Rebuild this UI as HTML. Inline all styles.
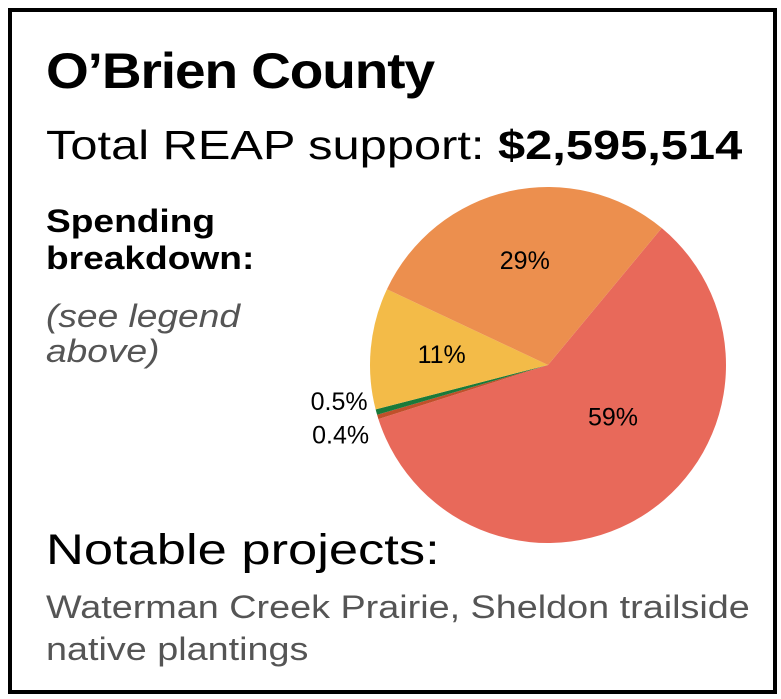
<!DOCTYPE html>
<html><head><meta charset="utf-8"><style>
body{margin:0;width:781px;height:699px;background:#fff;font-family:"Liberation Sans",sans-serif;position:relative;overflow:hidden}
.frame{position:absolute;left:8px;top:8px;width:761px;height:678px;border:4px solid #000}
.t{position:absolute;white-space:nowrap;color:#000;transform-origin:0 0}
</style></head><body>
<div class="frame"></div>
<div class="t" style="left:46px;top:42px;font-size:50px;font-weight:bold;letter-spacing:-1px;transform:scaleX(1.1)">O’Brien County</div>
<div class="t" style="left:46px;top:122px;font-size:41px;transform:scaleX(1.19)">Total REAP support: <b>$2,595,514</b></div>
<div class="t" style="left:46px;top:203px;font-size:32px;font-weight:bold;line-height:37px;transform:scaleX(1.16)">Spending<br>breakdown:</div>
<div class="t" style="left:46px;top:299px;font-size:32px;font-style:italic;color:#555;line-height:35px;transform:scaleX(1.16)">(see legend<br>above)</div>
<svg id="pie" width="781" height="699" style="position:absolute;left:0;top:0"></svg>
<div class="t" style="left:46px;top:526px;font-size:43px;transform:scaleX(1.22)">Notable projects:</div>
<div class="t" style="left:46px;top:586px;font-size:32px;color:#555;line-height:42px;transform:scaleX(1.18)">Waterman Creek Prairie, Sheldon trailside<br>native plantings</div>
<script>
const categories=["Category A","Category B","Category C","Category D","Category E"];
const values=[59,0.4,0.5,11,29];
const labels=["59%","0.4%","0.5%","11%","29%"];
const colors=["#e8695a","#c0502a","#1a7a3a","#f3bb48","#ec8f4e"];
const svg=document.getElementById('pie');
const cx=548,cy=365,r=178,start=39.7;
const total=values.reduce((a,b)=>a+b,0);
function pt(deg,rr){const a=deg*Math.PI/180;return [cx+rr*Math.sin(a),cy-rr*Math.cos(a)];}
let ang=start;
values.forEach((v,i)=>{
  const sweep=v/total*360;
  const [x1,y1]=pt(ang,r),[x2,y2]=pt(ang+sweep,r);
  const p=document.createElementNS("http://www.w3.org/2000/svg","path");
  p.setAttribute('d',`M${cx},${cy}L${x1},${y1}A${r},${r} 0 ${sweep>180?1:0} 1 ${x2},${y2}Z`);
  p.setAttribute('fill',colors[i]);
  
  
  svg.appendChild(p);
  const mid=ang+sweep/2;
  const t=document.createElementNS("http://www.w3.org/2000/svg","text");
  let lx,ly,anchor="middle";
  if(sweep<5){const [ox,oy]=pt(mid,r+8);lx=ox-1;ly=oy+(i===1?24:-4);anchor="end";}
  else if(sweep>180){[lx,ly]=pt(mid-17,r*0.47);ly+=8;}
  else{[lx,ly]=pt(mid,r*0.6);ly+=8;}
  t.setAttribute('x',lx);t.setAttribute('y',ly);
  t.setAttribute('text-anchor',anchor);
  t.setAttribute('font-size','25');
  t.setAttribute('font-family','Liberation Sans, sans-serif');
  t.textContent=labels[i];
  
  
  svg.appendChild(t);
  ang+=sweep;
});
</script>
</body></html>
